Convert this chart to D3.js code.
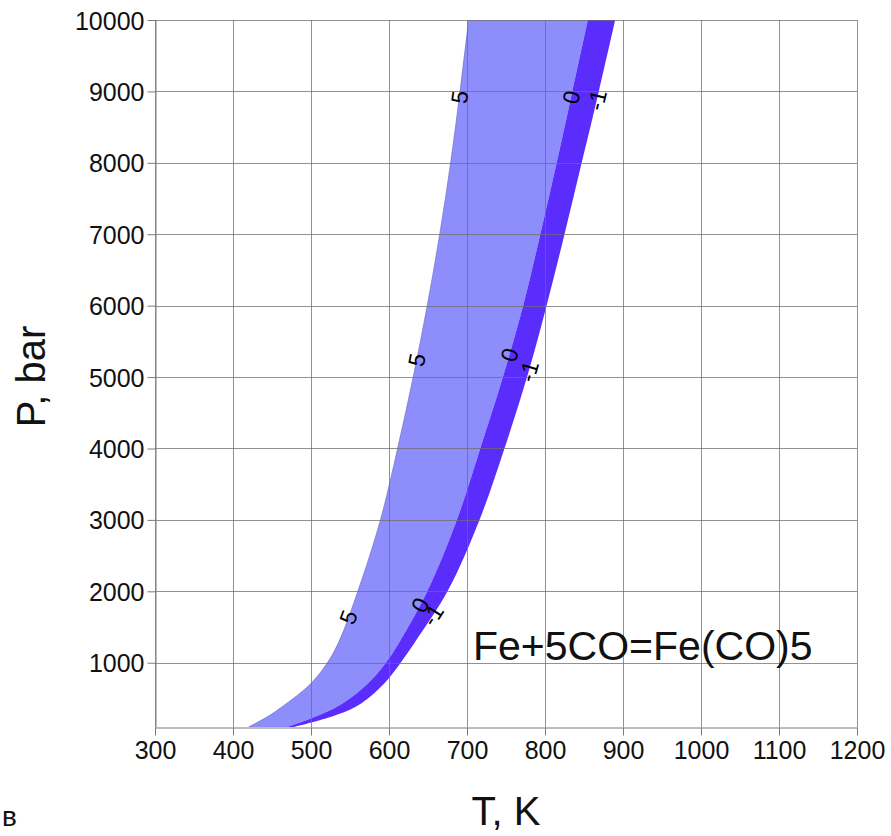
<!DOCTYPE html>
<html>
<head>
<meta charset="utf-8">
<script src="https://cdn.jsdelivr.net/npm/d3@7"></script>
<style>
  html, body { margin: 0; padding: 0; background: #fff; }
  svg { display: block; font-family: "Liberation Sans", Arial, sans-serif; }
</style>
</head>
<body>
<svg id="chart" width="891" height="836"></svg>
<script>
// Pressure levels (bar) at which the equilibrium isolines are sampled
const pressures = [100, 250, 400, 700, 1000, 1300, 2000, 3000, 4000, 5000, 6000, 7000, 8000, 9000, 10000];
// Temperature (K) of each isoline at those pressures
const tLevel5  = [420, 445, 465, 499, 521, 536, 560, 589, 611, 631, 649, 665, 679, 691, 702];
const tLevel0  = [470, 507, 536, 572, 596, 614, 649, 687, 717, 746, 772, 794, 815, 835, 855];
const tLevelM1 = [478, 528, 560, 593, 615, 634, 675, 716, 748, 777, 802, 825, 847, 869, 890];

const xTicks = [300, 400, 500, 600, 700, 800, 900, 1000, 1100, 1200];
const yTicks = [1000, 2000, 3000, 4000, 5000, 6000, 7000, 8000, 9000, 10000];

// Isoline labels: level text and the pressures at which each is placed
const labelLevels = ["5", "0", "-1"];
const labelPressures = {
  "5":  [1640, 5240, 8920],
  "0":  [1810, 5310, 8920],
  "-1": [1670, 5080, 8880]
};

const svg = d3.select("#chart");
const margin = { left: 155, top: 20, right: 34, bottom: 109 };
const W = 891, H = 836;

const x = d3.scaleLinear().domain([300, 1200]).range([margin.left, W - margin.right]);
const y = d3.scaleLinear().domain([100, 10000]).range([H - margin.bottom, margin.top]);

const rows = pressures.map((p, i) => ({ p, t5: tLevel5[i], t0: tLevel0[i], tm1: tLevelM1[i] }));
const curveByLevel = { "5": tLevel5, "0": tLevel0, "-1": tLevelM1 };
const smooth = d3.curveCatmullRom.alpha(0.5);

svg.append("defs").append("clipPath").attr("id", "plot-clip")
  .append("rect")
  .attr("x", x(300)).attr("y", y(10000))
  .attr("width", x(1200) - x(300)).attr("height", y(100) - y(10000));

const plot = svg.append("g").attr("clip-path", "url(#plot-clip)");

// Band between levels 5 and 0
plot.append("path")
  .datum(rows)
  .attr("fill", "#8d8dfc")
  .attr("d", d3.area()
    .curve(smooth)
    .y(d => y(d.p))
    .x0(d => x(d.t5))
    .x1(d => x(d.t0)));

// Band between levels 0 and -1
plot.append("path")
  .datum(rows)
  .attr("fill", "#5a2dfc")
  .attr("d", d3.area()
    .curve(smooth)
    .y(d => y(d.p))
    .x0(d => x(d.t0))
    .x1(d => x(d.tm1)));

// Thin outline of the leftmost isoline
plot.append("path")
  .datum(rows)
  .attr("fill", "none")
  .attr("stroke", "#6a6ab8")
  .attr("stroke-width", 0.6)
  .attr("d", d3.line().curve(smooth).y(d => y(d.p)).x(d => x(d.t5)));

// Grid, drawn above the filled bands
const grid = svg.append("g").attr("stroke", "#6e6e6e").attr("stroke-opacity", 0.75).attr("stroke-width", 1);
grid.selectAll(".gx").data(xTicks).join("line")
  .attr("x1", d => Math.round(x(d)) + 0.5).attr("x2", d => Math.round(x(d)) + 0.5)
  .attr("y1", y(10000)).attr("y2", y(100));
grid.selectAll(".gy").data(yTicks).join("line")
  .attr("y1", d => Math.round(y(d)) + 0.5).attr("y2", d => Math.round(y(d)) + 0.5)
  .attr("x1", x(300)).attr("x2", x(1200));

// Axes
const xAxis = d3.axisBottom(x).tickValues(xTicks).tickFormat(d3.format("d")).tickSizeInner(8).tickSizeOuter(0).tickPadding(6);
const yAxis = d3.axisLeft(y).tickValues(yTicks).tickFormat(d3.format("d")).tickSizeInner(8).tickSizeOuter(0).tickPadding(3);

const gx = svg.append("g").attr("transform", `translate(0,${Math.round(y(100)) + 0.5})`).call(xAxis);
const gy = svg.append("g").attr("transform", `translate(${Math.round(x(300)) + 0.5},0)`).call(yAxis);
[gx, gy].forEach(g => {
  g.select(".domain").attr("stroke", "#7a7a7a");
  g.selectAll(".tick line").attr("stroke", "#7a7a7a");
  g.selectAll(".tick text").attr("fill", "#111").style("font-size", "25px")
    .style("font-family", "'Liberation Sans', Arial, sans-serif");
});
gy.selectAll(".tick text").attr("dy", "0.36em");

// Isoline labels, rotated along the local direction of each line
function tempAt(level, p) {
  const ts = curveByLevel[level];
  const i = Math.max(1, Math.min(pressures.length - 1, d3.bisectLeft(pressures, p)));
  const p0 = pressures[i - 1], p1 = pressures[i];
  const f = (p - p0) / (p1 - p0);
  return ts[i - 1] + f * (ts[i] - ts[i - 1]);
}
const labelData = [];
labelLevels.forEach(level => {
  labelPressures[level].forEach(p => {
    const dp = 250;
    const xa = x(tempAt(level, p - dp)), ya = y(p - dp);
    const xb = x(tempAt(level, p + dp)), yb = y(p + dp);
    const ang = Math.atan2(yb - ya, xb - xa) * 180 / Math.PI;
    labelData.push({ level, px: x(tempAt(level, p)), py: y(p), ang });
  });
});
svg.append("g").selectAll("text").data(labelData).join("text")
  .attr("transform", d => `translate(${d.px},${d.py}) rotate(${d.ang})`)
  .attr("text-anchor", "middle")
  .attr("dy", "0.36em")
  .attr("fill", "#000")
  .style("font-size", "23px")
  .text(d => d.level);

// Reaction annotation
svg.append("text")
  .attr("x", 473).attr("y", 660)
  .attr("fill", "#111")
  .style("font-size", "41px")
  .text("Fe+5CO=Fe(CO)5");

// Axis titles
svg.append("text")
  .attr("x", (x(300) + x(1200)) / 2).attr("y", 825)
  .attr("text-anchor", "middle")
  .attr("fill", "#111")
  .style("font-size", "40px")
  .text("T, K");

svg.append("text")
  .attr("transform", `translate(45,${(y(100) + y(10000)) / 2 + 3}) rotate(-90)`)
  .attr("text-anchor", "middle")
  .attr("fill", "#111")
  .style("font-size", "40px")
  .text("P, bar");

// Panel letter
svg.append("text")
  .attr("x", 2).attr("y", 826)
  .attr("fill", "#111")
  .style("font-size", "28px")
  .text("в");
</script>
</body>
</html>
